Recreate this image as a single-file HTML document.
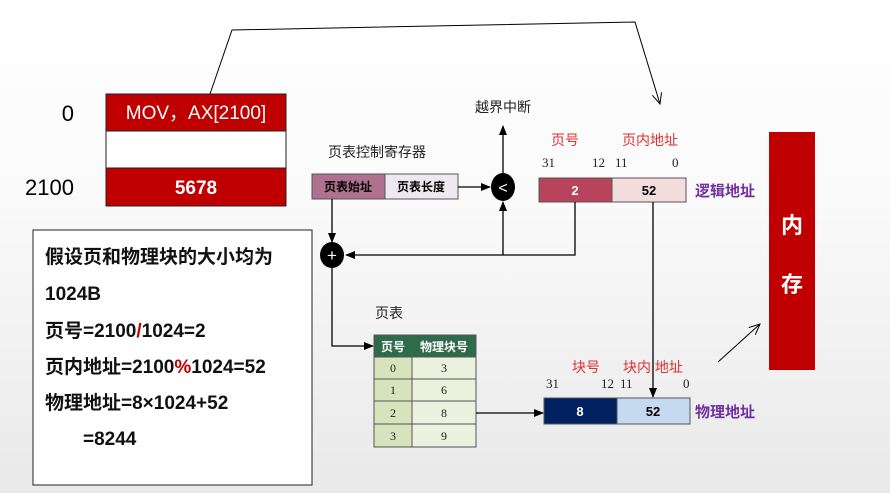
<!DOCTYPE html>
<html><head><meta charset="utf-8"><style>
html,body{margin:0;padding:0}
body{width:890px;height:493px;overflow:hidden;background:linear-gradient(#fff 0%,#fafafa 40%,#e9e9e9 100%);font-family:"Liberation Sans","Noto Sans CJK SC",sans-serif}
svg{position:absolute;left:0;top:0}
</style></head><body>
<svg width="890" height="493" viewBox="0 0 890 493" font-family="Liberation Sans, Noto Sans CJK SC, sans-serif">
<defs><marker id="a" markerWidth="10" markerHeight="8" refX="9" refY="4" orient="auto" markerUnits="userSpaceOnUse"><path d="M0,0 L10,4 L0,8 z" fill="#000"/></marker>
<marker id="t" markerWidth="12" markerHeight="10" refX="11" refY="5" orient="auto" markerUnits="userSpaceOnUse"><path d="M0,0 L11,5 L0,10" fill="none" stroke="#000" stroke-width="1"/></marker></defs>
<!-- memory block -->
<rect x="106" y="94" width="180" height="37" fill="#c00000" stroke="#222"/>
<rect x="106" y="131" width="180" height="37" fill="#fff" stroke="#222"/>
<rect x="106" y="168" width="180" height="38" fill="#c00000" stroke="#222"/>
<text x="196" y="119" fill="#fff" font-size="19" text-anchor="middle">MOV，AX[2100]</text>
<text x="196" y="194" fill="#fff" font-size="19" font-weight="bold" text-anchor="middle">5678</text>
<text x="74" y="121" font-size="22" text-anchor="end">0</text>
<text x="74" y="195" font-size="22" text-anchor="end">2100</text>
<polyline points="210,94 232,30 635,22 660,104" fill="none" stroke="#000" stroke-width="1" marker-end="url(#t)"/>
<!-- text box -->
<rect x="33" y="230" width="279" height="255" fill="#fff" stroke="#222"/>
<g font-size="19" font-weight="bold" fill="#111">
<text x="45" y="263">假设页和物理块的大小均为</text>
<text x="45" y="300">1024B</text>
<text x="45" y="337">页号=2100<tspan fill="#c00000">/</tspan>1024=2</text>
<text x="45" y="373">页内地址=2100<tspan fill="#c00000">%</tspan>1024=52</text>
<text x="45" y="409">物理地址=8×1024+52</text>
<text x="83" y="445">=8244</text>
</g>
<!-- labels -->
<text x="503" y="112" font-size="14" text-anchor="middle" fill="#222">越界中断</text>
<text x="328" y="157" font-size="14" fill="#222">页表控制寄存器</text>
<rect x="312" y="174" width="73" height="25" fill="#b07090" stroke="#555"/>
<rect x="385" y="174" width="73" height="25" fill="#eee8f0" stroke="#555"/>
<text x="348" y="191" font-size="12" font-weight="bold" text-anchor="middle">页表始址</text>
<text x="421" y="191" font-size="12" font-weight="bold" text-anchor="middle">页表长度</text>
<line x1="458" y1="187" x2="490" y2="187" stroke="#000" stroke-width="1.3" marker-end="url(#a)"/>
<ellipse cx="503" cy="187" rx="12" ry="14" fill="#000"/>
<text x="503" y="193" font-size="16" fill="#fff" text-anchor="middle">&lt;</text>
<line x1="503" y1="173" x2="503" y2="126" stroke="#000" stroke-width="1.3" marker-end="url(#a)"/>
<line x1="503" y1="255" x2="503" y2="202" stroke="#000" stroke-width="1.3" marker-end="url(#a)"/>
<!-- logical -->
<text x="551" y="145" font-size="14" fill="#e03030">页号</text>
<text x="622" y="145" font-size="14" fill="#e03030">页内地址</text>
<g font-size="13" font-family="Liberation Serif, serif" fill="#222">
<text x="542" y="167">31</text><text x="592" y="167">12</text><text x="615" y="167">11</text><text x="672" y="167">0</text>
<text x="546" y="388">31</text><text x="601" y="388">12</text><text x="620" y="388">11</text><text x="683" y="388">0</text></g>
<rect x="539" y="178" width="73" height="24" fill="#b8435a" stroke="#555"/>
<rect x="612" y="178" width="74" height="24" fill="#f2dcdc" stroke="#555"/>
<text x="575" y="195" font-size="13" font-weight="bold" fill="#fff" text-anchor="middle">2</text>
<text x="649" y="195" font-size="13" font-weight="bold" text-anchor="middle">52</text>
<text x="695" y="196" font-size="15" font-weight="bold" fill="#7030a0">逻辑地址</text>
<polyline points="575,202 575,255 346,255" fill="none" stroke="#000" stroke-width="1.3" marker-end="url(#a)"/>
<line x1="332" y1="199" x2="332" y2="242" stroke="#000" stroke-width="1.3" marker-end="url(#a)"/>
<ellipse cx="332" cy="255" rx="12" ry="13" fill="#000"/>
<text x="332" y="261" font-size="17" fill="#fff" text-anchor="middle">+</text>
<polyline points="332,268 332,346 373,346" fill="none" stroke="#000" stroke-width="1.3" marker-end="url(#a)"/>
<line x1="653" y1="202" x2="653" y2="397" stroke="#000" stroke-width="1.3" marker-end="url(#a)"/>
<!-- table -->
<text x="375" y="318" font-size="14" fill="#222">页表</text>
<rect x="374" y="335" width="102" height="22" fill="#2e6b4a" stroke="#555"/>
<text x="393" y="351" font-size="12" font-weight="bold" fill="#fff" text-anchor="middle">页号</text>
<text x="444" y="351" font-size="12" font-weight="bold" fill="#fff" text-anchor="middle">物理块号</text>
<g stroke="#555" font-family="Liberation Serif, serif" font-size="12" text-anchor="middle">
<rect x="374" y="357" width="38" height="22" fill="#d6e3bc"/><rect x="412" y="357" width="64" height="22" fill="#ebf1de"/>
<rect x="374" y="379" width="38" height="22" fill="#d6e3bc"/><rect x="412" y="379" width="64" height="22" fill="#ebf1de"/>
<rect x="374" y="401" width="38" height="23" fill="#d6e3bc"/><rect x="412" y="401" width="64" height="23" fill="#ebf1de"/>
<rect x="374" y="424" width="38" height="23" fill="#d6e3bc"/><rect x="412" y="424" width="64" height="23" fill="#ebf1de"/>
<g stroke="none" fill="#222"><text x="393" y="372">0</text><text x="444" y="372">3</text>
<text x="393" y="394">1</text><text x="444" y="394">6</text>
<text x="393" y="417">2</text><text x="444" y="417">8</text>
<text x="393" y="440">3</text><text x="444" y="440">9</text></g></g>
<line x1="476" y1="413" x2="543" y2="413" stroke="#000" stroke-width="1.3" marker-end="url(#a)"/>
<!-- physical -->
<text x="572" y="372" font-size="14" fill="#e03030">块号</text>
<text x="623" y="372" font-size="14" fill="#e03030">块内 地址</text>
<rect x="544" y="398" width="73" height="26" fill="#002060" stroke="#555"/>
<rect x="617" y="398" width="73" height="26" fill="#c5d9f1" stroke="#555"/>
<text x="580" y="416" font-size="13" font-weight="bold" fill="#fff" text-anchor="middle">8</text>
<text x="653" y="416" font-size="13" font-weight="bold" text-anchor="middle">52</text>
<text x="695" y="417" font-size="15" font-weight="bold" fill="#7030a0">物理地址</text>
<line x1="718" y1="362" x2="760" y2="324" stroke="#000" stroke-width="1" marker-end="url(#t)"/>
<rect x="769" y="132" width="46" height="238" fill="#c00000"/>
<text x="792" y="233" font-size="22" font-weight="bold" fill="#fff" text-anchor="middle">内</text>
<text x="792" y="292" font-size="22" font-weight="bold" fill="#fff" text-anchor="middle">存</text>
</svg>
</body></html>
